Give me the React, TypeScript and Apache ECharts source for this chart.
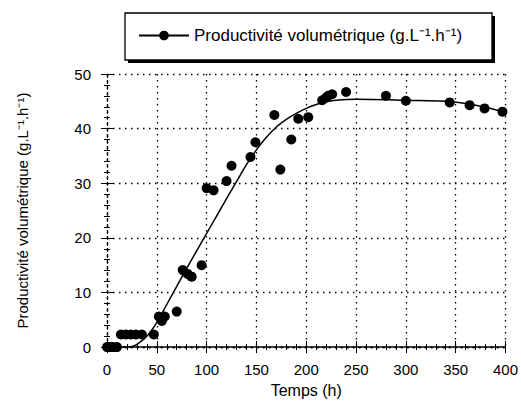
import React, { useEffect, useRef } from "react";
import * as echarts from "echarts";

const SERIES_NAME = "Productivité volumétrique (g.L⁻¹.h⁻¹)";
const X_TITLE = "Temps (h)";
const Y_TITLE = "Productivité volumétrique (g.L⁻¹.h⁻¹)";

// Measured points: time (h)
const pointTimes = [
  0, 3, 6, 10,
  14, 19, 24, 29, 35, 47,
  52, 55, 58, 70,
  76, 81, 85, 95,
  100, 107, 120, 125, 144, 149, 168, 174, 185, 192, 202,
  216, 220, 222, 226, 240, 280, 300, 344, 364, 379, 397,
];
// Measured points: productivity
const pointValues = [
  0, 0, 0, 0,
  2.3, 2.3, 2.3, 2.3, 2.3, 2.3,
  5.6, 4.8, 5.6, 6.5,
  14.1, 13.4, 12.9, 15.0,
  29.1, 28.7, 30.4, 33.2, 34.8, 37.5, 42.5, 32.5, 38.0, 41.8, 42.1,
  45.2, 45.7, 46.0, 46.3, 46.7, 46.0, 45.1, 44.8, 44.3, 43.7, 43.1,
];

// Fitted curve
const curveTimes = [
  0, 20, 25, 30, 40, 50, 60, 70, 80, 90, 100, 110, 120, 130, 140, 150, 160,
  170, 180, 190, 200, 210, 220, 230, 250, 300, 340, 360, 380, 400,
];
const curveValues = [
  0, 0, 0.1, 0.5, 2, 4.5, 7.8, 11.1, 14.4, 17.6, 20.8, 24, 27.2, 30.3, 33.4,
  36.1, 38.4, 40.3, 41.7, 42.8, 43.7, 44.4, 44.9, 45.2, 45.4, 45.2, 45.0,
  44.6, 43.9, 42.9,
];

const FONT = "'Liberation Sans', Arial, Helvetica, sans-serif";

export default function App() {
  const ref = useRef<HTMLDivElement>(null);

  useEffect(() => {
    if (!ref.current) return;
    const chart = echarts.init(ref.current, undefined, { renderer: "svg" });

    const points = pointTimes.map((t, i) => [t, pointValues[i]]);
    const curve = curveTimes.map((t, i) => [t, curveValues[i]]);

    const dotted = { color: "#000", width: 1.3, type: [1.5, 4.5] as number[] };

    const baseAxis = (pos: string) => ({
      type: "value" as const,
      position: pos,
      axisTick: { show: true, inside: true, length: 6, lineStyle: { color: "#000", width: 1 } },
      minorTick: { show: true, splitNumber: 5, length: 3, lineStyle: { color: "#000", width: 1 } },
    });

    chart.setOption({
      animation: false,
      backgroundColor: "#fff",
      textStyle: { fontFamily: FONT },
      grid: { left: 107, right: 15, top: 74, bottom: 51, containLabel: false },
      graphic: [
        {
          type: "rect",
          z: 1,
          silent: true,
          shape: { x: 128, y: 16, width: 367, height: 47 },
          style: { fill: "#000" },
        },
        {
          type: "rect",
          z: 2,
          silent: true,
          shape: { x: 125, y: 13, width: 367, height: 47 },
          style: { fill: "#fff", stroke: "#000", lineWidth: 1.3 },
        },
      ],
      legend: {
        left: 125,
        top: 13,
        data: [SERIES_NAME],
        selectedMode: false,
        itemWidth: 50,
        itemHeight: 12,
        padding: [14, 0, 14, 13],
        z: 5,
        textStyle: { fontSize: 17, color: "#000", fontFamily: FONT },
      },
      xAxis: [
        {
          ...baseAxis("bottom"),
          min: 0,
          max: 400,
          interval: 50,
          axisLine: { show: true, lineStyle: { color: "#000", width: 1.5 } },
          axisLabel: { fontSize: 15, color: "#000", margin: 15, fontFamily: FONT },
          splitLine: { show: true, lineStyle: dotted },
          name: X_TITLE,
          nameLocation: "middle",
          nameGap: 31,
          nameTextStyle: { fontSize: 16, color: "#000", fontFamily: FONT },
        },
        {
          ...baseAxis("top"),
          min: 0,
          max: 400,
          interval: 50,
          axisLine: { show: true, lineStyle: dotted },
          axisLabel: { show: false },
          splitLine: { show: false },
        },
      ],
      yAxis: [
        {
          ...baseAxis("left"),
          min: 0,
          max: 50,
          interval: 10,
          axisLine: { show: true, lineStyle: dotted },
          axisLabel: { fontSize: 15, color: "#000", margin: 16, fontFamily: FONT },
          splitLine: { show: true, lineStyle: dotted },
          name: Y_TITLE,
          nameLocation: "middle",
          nameGap: 77,
          nameTextStyle: { fontSize: 15, color: "#000", fontFamily: FONT },
        },
        {
          ...baseAxis("right"),
          min: 0,
          max: 50,
          interval: 10,
          axisLine: { show: true, lineStyle: dotted },
          axisLabel: { show: false },
          splitLine: { show: false },
        },
      ],
      series: [
        {
          name: SERIES_NAME,
          type: "line",
          data: curve,
          smooth: 0.4,
          symbol: "circle",
          showSymbol: false,
          itemStyle: { color: "#000", opacity: 1 },
          lineStyle: { color: "#000", width: 1.5 },
          z: 2,
        },
        {
          name: SERIES_NAME,
          type: "scatter",
          data: points,
          symbol: "circle",
          symbolSize: 10,
          itemStyle: { color: "#000", opacity: 1 },
          z: 3,
        },
      ],
    });

    return () => chart.dispose();
  }, []);

  return (
    <div
      ref={ref}
      style={{ position: "absolute", left: 0, top: 0, width: 521, height: 403 }}
    />
  );
}
